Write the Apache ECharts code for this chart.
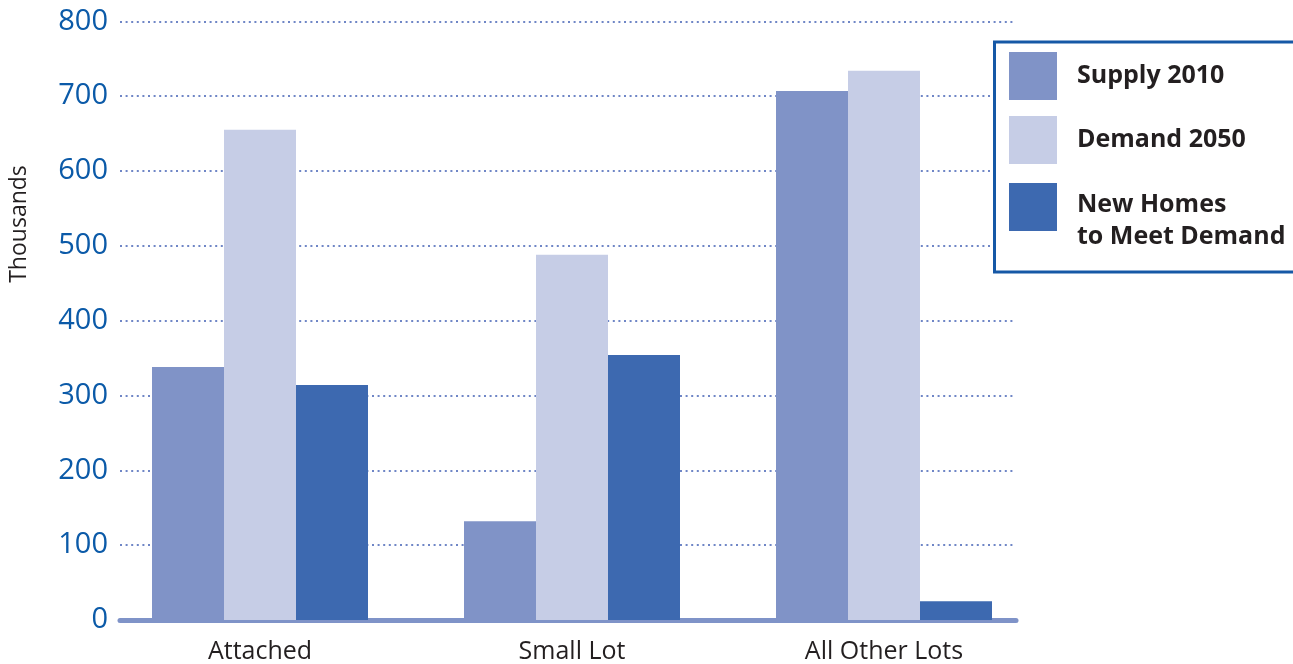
<!DOCTYPE html>
<html>
<head>
<meta charset="utf-8">
<script src="https://cdn.jsdelivr.net/npm/echarts@6/dist/echarts.min.js"></script>
<style>
  html, body { margin: 0; padding: 0; background: #fff; }
  #chart { width: 1293px; height: 664px; }
</style>
</head>
<body>
<div id="chart"></div>
<script>
const categories = ['Attached', 'Small Lot', 'All Other Lots']
const supply2010 = [338, 132, 707]
const demand2050 = [655, 488, 734]
const newHomes = [314, 354, 25]
const yTicks = { min: 0, max: 800, interval: 100 }

const FONT = '"Open Sans", "Noto Sans", sans-serif'
const colors = ['#8093c7', '#c6cde6', '#3d69b0']

const chart = echarts.init(document.getElementById('chart'))

const legendText = { fontFamily: FONT, fontSize: 25, fontWeight: 'bold', color: '#231f20', lineHeight: 32, padding: [0, 0, 0, 15] }
const legendBase = { orient: 'vertical', left: 1009, padding: 0, icon: 'rect', itemWidth: 48, itemHeight: 48, selectedMode: false, textStyle: legendText }

chart.setOption({
  animation: false,
  backgroundColor: '#fff',
  grid: [
    { left: 120, right: 277, top: 21.3, bottom: 44 },
    { left: 104, right: 253, top: 21.3, bottom: 44 }
  ],
  xAxis: [
    {
      gridIndex: 0, type: 'category', data: categories,
      axisLine: { lineStyle: { color: '#7f93c8', width: 5 } },
      axisTick: { show: false }, axisLabel: { show: false }
    },
    {
      gridIndex: 1, type: 'category', data: categories,
      axisLine: { show: false }, axisTick: { show: false },
      axisLabel: { fontFamily: FONT, fontSize: 25, color: '#231f20', margin: 19 }
    }
  ],
  yAxis: [
    {
      gridIndex: 0, type: 'value', ...yTicks,
      axisLine: { show: false }, axisTick: { show: false },
      axisLabel: { fontFamily: FONT, fontSize: 29, color: '#0b5aa8', margin: 12 },
      splitLine: { lineStyle: { color: '#6f86c6', width: 2, type: [2, 3.6] } }
    },
    { gridIndex: 1, type: 'value', ...yTicks, show: false, splitLine: { show: false } }
  ],
  legend: [
    { ...legendBase, top: 52, data: ['Supply 2010'] },
    { ...legendBase, top: 116, data: ['Demand 2050'] },
    {
      ...legendBase, top: 161, data: ['New Homes to Meet Demand'],
      formatter: () => '{s| }\n{b|New Homes}\n{b|to Meet Demand}',
      textStyle: {
        ...legendText,
        rich: {
          s: { lineHeight: 28, fontSize: 10 },
          b: { fontFamily: FONT, fontSize: 25, fontWeight: 'bold', color: '#231f20', lineHeight: 32 }
        }
      }
    }
  ],
  graphic: [
    {
      type: 'rect', z: 3,
      shape: { x: 994.5, y: 42, width: 340, height: 230 },
      style: { fill: '#fff', stroke: '#1658a6', lineWidth: 3 }
    },
    {
      type: 'text', x: 19, y: 224, rotation: Math.PI / 2,
      style: { text: 'Thousands', font: '23px ' + FONT, fill: '#231f20', align: 'center', verticalAlign: 'middle' }
    }
  ],
  series: [
    { name: 'Supply 2010', type: 'bar', xAxisIndex: 1, yAxisIndex: 1, data: supply2010, barWidth: 72, barGap: '0%', itemStyle: { color: colors[0] } },
    { name: 'Demand 2050', type: 'bar', xAxisIndex: 1, yAxisIndex: 1, data: demand2050, barWidth: 72, barGap: '0%', itemStyle: { color: colors[1] } },
    { name: 'New Homes to Meet Demand', type: 'bar', xAxisIndex: 1, yAxisIndex: 1, data: newHomes, barWidth: 72, barGap: '0%', itemStyle: { color: colors[2] } }
  ]
})
</script>
</body>
</html>
